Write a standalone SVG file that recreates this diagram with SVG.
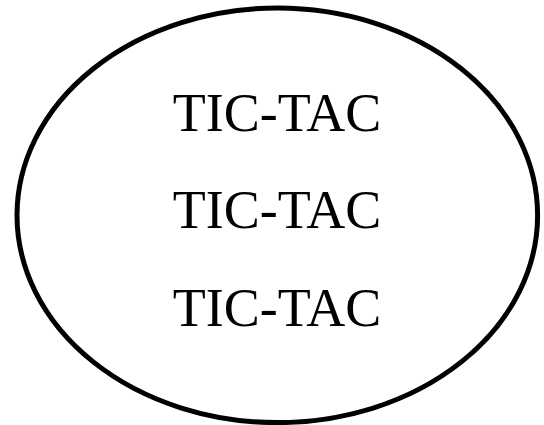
<svg xmlns="http://www.w3.org/2000/svg" width="544" height="425" viewBox="0 0 544 425">
<style>
.t{font-family:"Liberation Serif","Times New Roman",serif;font-size:54px;fill:#000;text-anchor:middle}
</style>
<rect width="544" height="425" fill="#fff"/>
<g id="node1">
<ellipse cx="277.3" cy="215.3" rx="260.3" ry="207.3" fill="#fff" stroke="#000" stroke-width="5"/>
<text class="t" x="277" y="131">TIC-TAC</text>
<text class="t" x="277" y="228">TIC-TAC</text>
<text class="t" x="277" y="326">TIC-TAC</text>
</g>
<g id="connectors"/>
</svg>
